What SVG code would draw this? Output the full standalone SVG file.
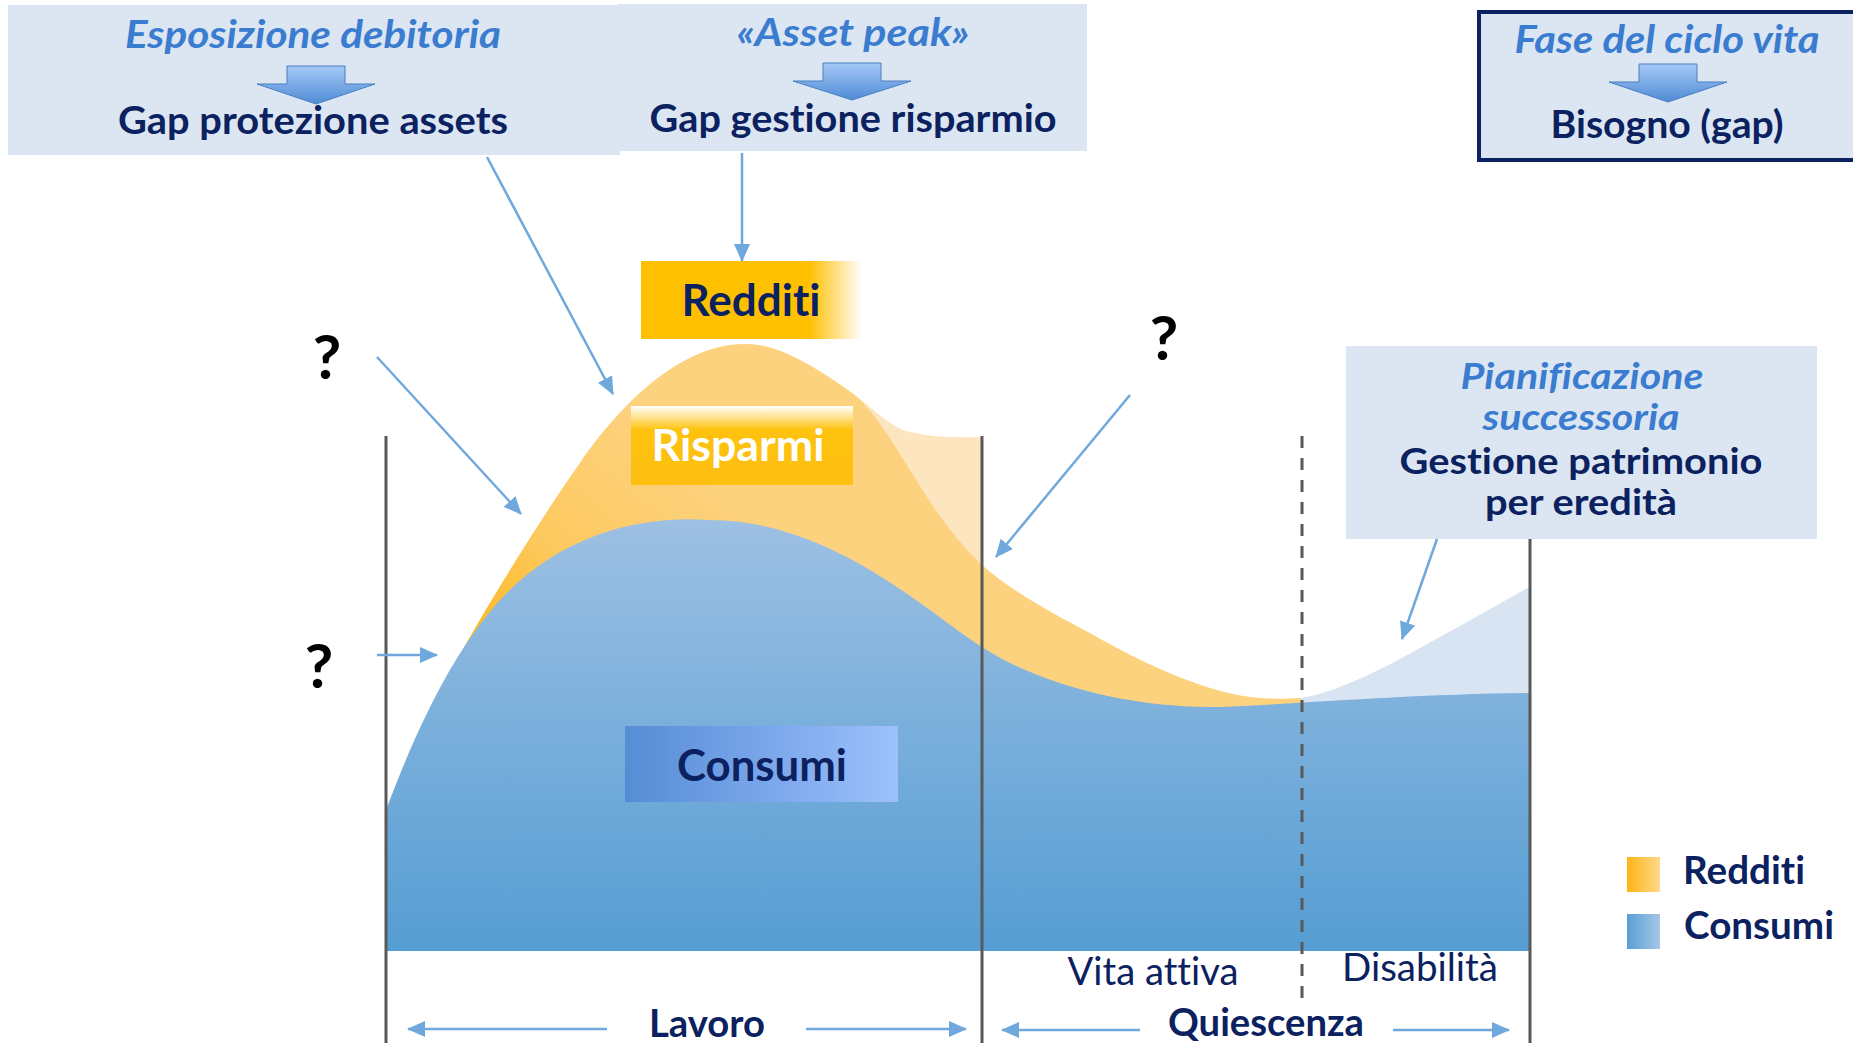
<svg xmlns="http://www.w3.org/2000/svg" width="1853" height="1043" viewBox="0 0 1853 1043">
<style>
.t{font-family:Lato,"Open Sans","Liberation Sans",sans-serif;font-weight:700;fill:#0b2160;font-size:39px;text-anchor:middle;font-variant-ligatures:none;font-feature-settings:"liga" 0,"clig" 0}
.it{font-style:italic;fill:#3a7ccf}
.big{font-size:43px}
.sm{font-size:37px}
.reg{font-weight:400}
.st{text-anchor:start}
.q{font-size:62px;fill:#000}
.wh{fill:#ffffff}
.box{fill:#dce6f2}
.vl{stroke:#595959;stroke-width:3;fill:none}
.con{stroke:#6fa8dc;stroke-width:2.5;fill:none;marker-end:url(#ah)}
.barr{fill:url(#gArr);stroke:#4a7fc2;stroke-width:1}
</style>
<defs>
<linearGradient id="gBlue" x1="0" y1="520" x2="0" y2="951" gradientUnits="userSpaceOnUse">
<stop offset="0" stop-color="#9dc0e3"/><stop offset="1" stop-color="#559dd3"/>
</linearGradient>
<linearGradient id="gOrange" x1="450" y1="665" x2="650" y2="420" gradientUnits="userSpaceOnUse">
<stop offset="0" stop-color="#fdb412"/><stop offset="0.5" stop-color="#fdc95f"/><stop offset="1" stop-color="#fdd27f"/>
</linearGradient>
<linearGradient id="gArr" x1="0" y1="0" x2="0" y2="1">
<stop offset="0" stop-color="#a6c9f7"/><stop offset="1" stop-color="#4f8bd5"/>
</linearGradient>
<linearGradient id="gRed" x1="0" y1="0" x2="1" y2="0">
<stop offset="0" stop-color="#ffc000"/><stop offset="0.76" stop-color="#ffc000"/><stop offset="1" stop-color="#ffffff"/>
</linearGradient>
<linearGradient id="gRis" x1="0" y1="0" x2="0" y2="1">
<stop offset="0" stop-color="#ffffff"/><stop offset="0.3" stop-color="#fec20f"/><stop offset="1" stop-color="#fdbf10"/>
</linearGradient>
<linearGradient id="gCon" x1="0" y1="0" x2="1" y2="0">
<stop offset="0" stop-color="#558dd5"/><stop offset="0.5" stop-color="#79a5ea"/><stop offset="1" stop-color="#9dc1fc"/>
</linearGradient>
<linearGradient id="gLegO" x1="0" y1="0" x2="1" y2="0">
<stop offset="0" stop-color="#fdb414"/><stop offset="1" stop-color="#fed98a"/>
</linearGradient>
<linearGradient id="gLegB" x1="0" y1="0" x2="1" y2="0">
<stop offset="0" stop-color="#5a9fd4"/><stop offset="1" stop-color="#a5c6e6"/>
</linearGradient>
<marker id="ah" viewBox="0 0 18 16" refX="17" refY="8" markerUnits="userSpaceOnUse" markerWidth="18" markerHeight="16" orient="auto">
<path d="M0,0 L18,8 L0,16 Z" fill="#6fa8dc"/>
</marker>
</defs>
<rect x="0" y="0" width="1853" height="1043" fill="#ffffff"/>

<g id="chart">
<path id="orange-light" d="M440,690 L453,667 C490,600 540,520 580,463 C620,405 680,344 745,344 C775,344 805,360 848,390 C870,405 890,428 910,432 C930,437 960,438 982,437 L982,700 L440,700 Z" fill="#fde5bf"/>
<path id="orange" d="M440,690 L453,667 C490,600 540,520 580,463 C620,405 680,344 745,344 C775,344 805,360 848,390 C870,405 888,435 905,462 C925,495 950,535 982,565 C1010,590 1050,612 1090,633 C1140,662 1200,690 1250,697 C1270,699 1290,699 1301,698 L1301,720 L440,720 Z" fill="url(#gOrange)"/>
<path id="disab" d="M1301,698 Q1340,692 1411,653 T1531,586 L1531,705 L1301,705 Z" fill="#d9e4f3"/>
<path id="blue" d="M386,951 L386,810 C420,720 455,650 500,600 C560,535 640,515 709,520 C830,520 925,610 982,647 C1040,685 1130,707 1209,707 C1260,707 1400,694 1531,693 L1531,951 Z" fill="url(#gBlue)"/>
</g>

<g id="dividers">
<line class="vl" x1="386" y1="436" x2="386" y2="1043"/>
<line class="vl" x1="982" y1="436" x2="982" y2="1043"/>
<line class="vl" x1="1530" y1="539" x2="1530" y2="1043"/>
<line class="vl" x1="1302" y1="436" x2="1302" y2="999" stroke-dasharray="12 10"/>
</g>

<g id="box-esposizione">
<rect class="box" x="8" y="5" width="612" height="150"/>
<text class="t it" x="313" y="48" textLength="376" lengthAdjust="spacingAndGlyphs">Esposizione debitoria</text>
<path class="barr" d="M287,66 H345 V84 H375 L316,104 L257,84 H287 Z"/>
<text class="t" x="313" y="134" textLength="390" lengthAdjust="spacingAndGlyphs">Gap protezione assets</text>
</g>

<g id="box-asset-peak">
<rect class="box" x="618" y="4" width="469" height="147"/>
<text class="t it" x="853" y="46" textLength="233" lengthAdjust="spacingAndGlyphs">«Asset peak»</text>
<path class="barr" d="M823,63 H881 V81 H911 L852,100 L793,81 H823 Z"/>
<text class="t" x="853" y="132" textLength="407" lengthAdjust="spacingAndGlyphs">Gap gestione risparmio</text>
</g>

<g id="box-fase">
<rect class="box" x="1479" y="12" width="400" height="148" stroke="#0b2160" stroke-width="4"/>
<text class="t it" x="1667" y="53" textLength="305" lengthAdjust="spacingAndGlyphs">Fase del ciclo vita</text>
<path class="barr" d="M1639,64 H1697 V82 H1727 L1668,102 L1609,82 H1639 Z"/>
<text class="t" x="1667" y="138" textLength="233" lengthAdjust="spacingAndGlyphs">Bisogno (gap)</text>
</g>

<g id="box-pianificazione">
<rect class="box" x="1346" y="346" width="471" height="193"/>
<text class="t it sm" x="1582" y="389" textLength="243" lengthAdjust="spacingAndGlyphs">Pianificazione</text>
<text class="t it sm" x="1581" y="430" textLength="197" lengthAdjust="spacingAndGlyphs">successoria</text>
<text class="t sm" x="1581" y="474" textLength="363" lengthAdjust="spacingAndGlyphs">Gestione patrimonio</text>
<text class="t sm" x="1581" y="515" textLength="192" lengthAdjust="spacingAndGlyphs">per eredità</text>
</g>

<g id="label-redditi">
<rect x="641" y="261" width="221" height="78" fill="url(#gRed)"/>
<text class="t big" x="751" y="316" textLength="139" lengthAdjust="spacingAndGlyphs">Redditi</text>
</g>

<g id="label-risparmi">
<rect x="631" y="406" width="222" height="79" fill="url(#gRis)"/>
<text class="t big wh" x="738" y="461" textLength="173" lengthAdjust="spacingAndGlyphs">Risparmi</text>
</g>

<g id="label-consumi">
<rect x="625" y="726" width="273" height="76" fill="url(#gCon)"/>
<text class="t big" x="762" y="781" textLength="170" lengthAdjust="spacingAndGlyphs">Consumi</text>
</g>

<g id="q1"><text class="t q" x="327" y="379">?</text></g>
<g id="q2"><text class="t q" x="319" y="688">?</text></g>
<g id="q3"><text class="t q" x="1164" y="360">?</text></g>

<g id="phase-labels">
<text class="t reg" x="1153" y="985" textLength="171" lengthAdjust="spacingAndGlyphs">Vita attiva</text>
<text class="t reg" x="1420" y="981" textLength="156" lengthAdjust="spacingAndGlyphs">Disabilità</text>
<text class="t" x="707" y="1037" textLength="116" lengthAdjust="spacingAndGlyphs">Lavoro</text>
<text class="t" x="1266" y="1036" textLength="196" lengthAdjust="spacingAndGlyphs">Quiescenza</text>
</g>

<g id="legend">
<rect x="1627" y="857" width="33" height="35" fill="url(#gLegO)"/>
<text class="t st" x="1683" y="884" textLength="122" lengthAdjust="spacingAndGlyphs">Redditi</text>
<rect x="1627" y="914" width="33" height="35" fill="url(#gLegB)"/>
<text class="t st" x="1684" y="939" textLength="150" lengthAdjust="spacingAndGlyphs">Consumi</text>
</g>

<g id="connectors">
<line class="con" x1="487" y1="157" x2="613" y2="394"/>
<line class="con" x1="742" y1="153" x2="742" y2="261"/>
<line class="con" x1="377" y1="357" x2="521" y2="514"/>
<line class="con" x1="377" y1="655" x2="437" y2="655"/>
<line class="con" x1="1130" y1="395" x2="996" y2="557"/>
<line class="con" x1="1437" y1="539" x2="1402" y2="639"/>
<line class="con" x1="607" y1="1029" x2="408" y2="1029"/>
<line class="con" x1="806" y1="1029" x2="966" y2="1029"/>
<line class="con" x1="1140" y1="1030" x2="1002" y2="1030"/>
<line class="con" x1="1393" y1="1030" x2="1509" y2="1030"/>
</g>
</svg>
